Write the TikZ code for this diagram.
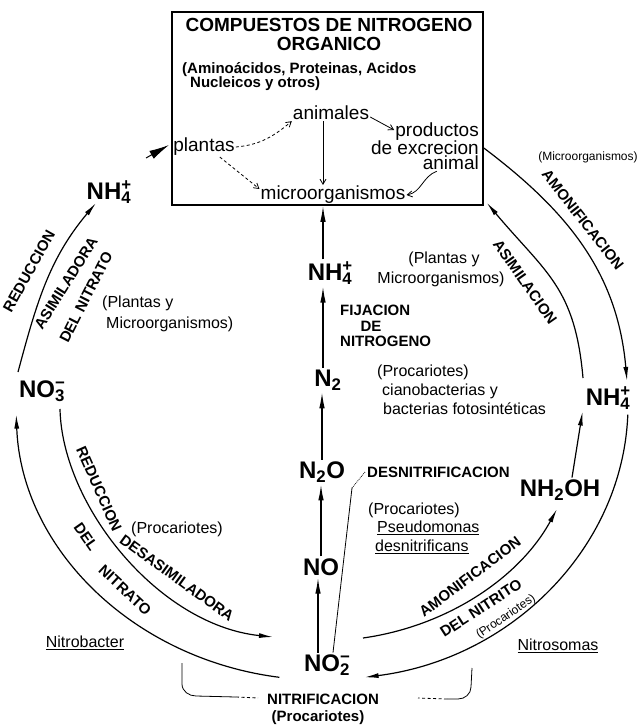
\documentclass[tikz,border=0pt]{standalone}
\usepackage{fontspec}
\setmainfont{Liberation Sans}
\usetikzlibrary{arrows.meta}
\begin{document}
\begin{tikzpicture}[x=1pt,y=1pt,
  chemtxt/.style={font=\bfseries\fontsize{24}{26}\selectfont, inner sep=2pt},
  captxt/.style={font=\bfseries\fontsize{15}{17}\selectfont, inner sep=0pt},
  lbltxt/.style={font=\fontsize{16}{18}\selectfont, inner sep=0pt},
  smalltxt/.style={font=\fontsize{12}{14}\selectfont, inner sep=0pt},
  boxtxt/.style={font=\fontsize{19}{21}\selectfont, inner sep=1pt},
  titletxt/.style={font=\bfseries\fontsize{19}{21}\selectfont, inner sep=0pt},
  subtxt/.style={font=\bfseries\fontsize{15}{17}\selectfont, inner sep=0pt},
  cyc/.style={line width=1.2pt},
  tipped/.style={-{Latex[length=14pt,width=5pt]}},
  vert/.style={line width=1.3pt, -{Latex[length=16pt,width=5.5pt]}},
  boxarr/.style={line width=0.8pt, -{Straight Barb[length=5pt,width=6pt]}},
  dsh/.style={dash pattern=on 3pt off 2.5pt},
  brk/.style={line width=0.8pt}
]
\useasboundingbox (0,0) rectangle (642,-728);

% ---------- box ----------
\node[draw, line width=1.6pt, minimum width=311pt, minimum height=193pt, inner sep=0pt] (box) at (327.5,-108.5) {};
\node[titletxt] (t1) at (329,-25) {COMPUESTOS DE NITROGENO};
\node[titletxt] (t2) at (329,-44) {ORGANICO};
\node[subtxt, anchor=west] (t3) at (182,-70) {(Aminoácidos, Proteinas, Acidos};
\node[subtxt, anchor=west] (t4) at (190,-84) {Nucleicos y otros)};
\node[boxtxt] (anim) at (331,-113) {animales};
\node[boxtxt] (plan) at (204,-147) {plantas};
\node[boxtxt, anchor=east] (pr1) at (480,-132) {productos};
\node[boxtxt, anchor=east] (pr2) at (480,-148) {de excrecion};
\node[boxtxt, anchor=east] (pr3) at (480,-163) {animal};
\node[boxtxt] (micro) at (333,-195) {microorganismos};

\draw[boxarr, dsh] (plan.east) to[out=5,in=-140] (anim.south west);
\draw[boxarr] ([xshift=-8pt]anim.south) -- ([xshift=-10pt]micro.north);
\draw[boxarr] ([yshift=-4pt]anim.east) -- ([yshift=2pt]pr1.west);
\draw[boxarr, dsh] ([xshift=-16pt]plan.south east) -- ([yshift=6pt]micro.west);
\draw[boxarr] ([xshift=-14pt]pr3.south) to[out=-160,in=10] (micro.east);

% ---------- chemical species ----------
\node[chemtxt] (nh4l) at (109,-192) {NH\rlap{\textsuperscript{+}}\textsubscript{4}};
\node[chemtxt] (no3) at (42,-391) {NO\rlap{\textsuperscript{−}}\textsubscript{3}};
\node[chemtxt] (nh4c) at (330,-273) {NH\rlap{\textsuperscript{+}}\textsubscript{4}};
\node[chemtxt] (n2) at (328,-380) {N\textsubscript{2}};
\node[chemtxt] (n2o) at (322,-472) {N\textsubscript{2}O};
\node[chemtxt] (no) at (321,-567) {NO};
\node[chemtxt] (no2) at (327,-665) {NO\rlap{\textsuperscript{−}}\textsubscript{2}};
\node[chemtxt] (nh4r) at (608,-398) {NH\rlap{\textsuperscript{+}}\textsubscript{4}};
\node[chemtxt] (nh2oh) at (560,-490) {NH\textsubscript{2}OH};

% ---------- vertical chain ----------
\draw[vert] ([xshift=-7pt]nh4c.north) -- ([xshift=-4.5pt]box.south);
\draw[vert] ([xshift=-5pt]n2.north) -- ([xshift=-7pt]nh4c.south);
\draw[vert] (n2o.north) -- ([xshift=-6pt]n2.south);
\draw[vert] (no.north) -- ([xshift=-1pt]n2o.south);
\draw[vert] ([xshift=-9pt]no2.north) -- ([xshift=-3pt]no.south);

% ---------- labels centre ----------
\node[lbltxt] (cpl1) at (444,-259) {(Plantas y};
\node[lbltxt] (cpl2) at (441,-279) {Microorganismos)};
\node[captxt, anchor=west] (fij1) at (340,-310) {FIJACION};
\node[captxt] (fij2) at (371,-326) {DE};
\node[captxt, anchor=west] (fij3) at (340,-341) {NITROGENO};
\node[lbltxt, anchor=west] (pc1) at (377,-372) {(Procariotes)};
\node[lbltxt, anchor=west] (pc2) at (382,-391) {cianobacterias y};
\node[lbltxt, anchor=west] (pc3) at (383,-409) {bacterias fotosintéticas};
\node[captxt, anchor=west] (desn) at (367,-472) {DESNITRIFICACION};
\node[lbltxt, anchor=west] (ps1) at (368,-510) {(Procariotes)};
\node[lbltxt, anchor=west] (ps2) at (377,-528) {\underline{Pseudomonas}};
\node[lbltxt, anchor=west] (ps3) at (375,-547) {\underline{desnitrificans}};

\coordinate (dz) at (352,-488);
\draw[line width=0.8pt] ([xshift=6pt]no2.north) -- (dz);
\draw[line width=0.8pt, densely dotted] (dz) -- ([xshift=-2pt]desn.west);

% ---------- cycle arcs ----------
\coordinate (a1s) at (627.8,-414.6); \coordinate (a1e) at (364.6,-677.3);
\draw[cyc, tipped] (a1s) .. controls (622.6,-548.0) and (511.6,-658.7) .. (a1e);
\coordinate (a2s) at (279.4,-677.3); \coordinate (a2e) at (16.2,-414.6);
\draw[cyc, tipped] (a2s) .. controls (132.4,-658.7) and (21.4,-548.0) .. (a2e);
\coordinate (a3s) at (60,-409); \coordinate (a3e) at (273,-637);
\draw[cyc, tipped] (a3s) .. controls (62,-505) and (158,-625) .. (a3e);
\coordinate (a4s) at (363,-638); \coordinate (a4e) at (557,-509);
\draw[cyc, tipped] (a4s) .. controls (447.1,-626.1) and (519.5,-578.0) .. (a4e);
\coordinate (a5s) at (18,-372); \coordinate (a5e) at (96,-203);
\draw[cyc, tipped] (a5s) to[out=75,in=230] (a5e);
\coordinate (a6s) at (583,-378);
\draw[cyc, tipped] (a6s) to[out=95,in=-50,looseness=1.17] ([shift={(3pt,3pt)}]box.south east);
\coordinate (a7e) at (627,-381);
\draw[cyc, tipped] (box.east |- pr2.east) to[out=-37,in=95] (a7e);
\draw[cyc, tipped] ([xshift=12pt]nh2oh.north) -- ([xshift=-1pt]nh4r.south west);
\coordinate (w0) at (146,-158); \coordinate (wt) at (169,-145);
\draw[line width=1pt, -{Latex[length=20pt,width=9pt]}] (w0) -- (wt);

% ---------- arc labels ----------
\node[captxt, rotate=61] (la1) at (29,-271) {REDUCCION};
\node[captxt, rotate=58] (la2) at (66,-283) {ASIMILADORA};
\node[captxt, rotate=63] (la3) at (86,-297) {DEL NITRATO};
\node[lbltxt, anchor=west] (lpl1) at (102,-303) {(Plantas y};
\node[lbltxt, anchor=west] (lpl2) at (106,-324) {Microorganismos)};

\node[captxt, rotate=-66] (lb1) at (99,-489) {REDUCCION};
\node[captxt, rotate=-36] (lb2) at (177,-578) {DESASIMILADORA};
\node[captxt, rotate=-55] (lb3) at (86,-537) {DEL};
\node[captxt, rotate=-43] (lb4) at (125,-590) {NITRATO};
\node[lbltxt] (lb5) at (177,-529) {(Procariotes)};

\node[captxt, rotate=37] (rb1) at (470,-577) {AMONIFICACION};
\node[captxt, rotate=33] (rb2) at (481,-608) {DEL NITRITO};
\node[smalltxt, rotate=34] (rb3) at (506,-617) {(Procariotes)};

\node[captxt, rotate=-55] (ru1) at (525,-282) {ASIMILACION};
\node[captxt, rotate=-52] (ru2) at (583,-220) {AMONIFICACION};
\node[smalltxt] (ru3) at (588,-157) {(Microorganismos)};

% ---------- bottom ----------
\node[lbltxt] (nbac) at (85,-643) {\underline{Nitrobacter}};
\node[lbltxt] (nsom) at (558,-646) {\underline{Nitrosomas}};
\node[captxt] (nitri) at (323,-699) {NITRIFICACION};
\node[captxt] (nproc) at (318,-718) {(Procariotes)};
\draw[brk] (182,-663) -- (182,-684) to[out=-90,in=180] (196,-696) -- (236,-697);
\draw[brk, dsh] (236,-697) -- (258,-698);
\draw[brk] (472,-668) -- (471,-687) to[out=-90,in=0] (458,-699) -- (447,-699);
\draw[brk, dsh] (447,-699) -- (418,-698);
\end{tikzpicture}
\end{document}
